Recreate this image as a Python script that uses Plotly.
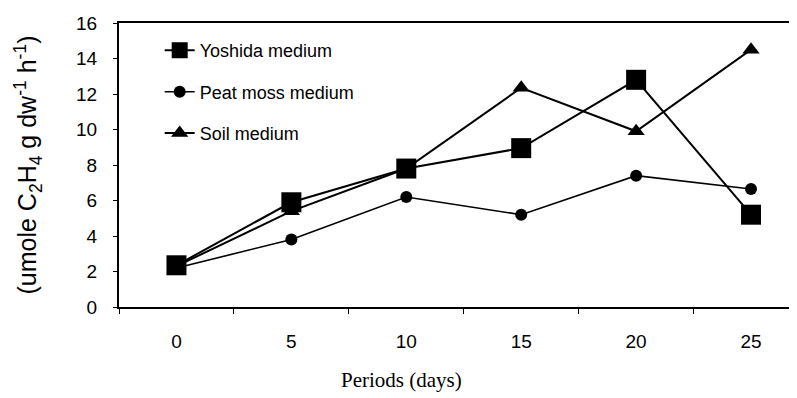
import plotly.graph_objects as go

periods = ["0", "5", "10", "15", "20", "25"]
yoshida = [2.35, 5.9, 7.8, 8.95, 12.8, 5.2]
peat_moss = [2.2, 3.8, 6.2, 5.2, 7.4, 6.65]
soil = [2.3, 5.4, 7.8, 12.35, 9.9, 14.5]
y_ticks = [0, 2, 4, 6, 8, 10, 12, 14, 16]

fig = go.Figure()
fig.add_trace(go.Scatter(x=periods, y=yoshida, name="Yoshida medium", mode="lines+markers",
                         legendgroup="a",
                         line=dict(color="black", width=2),
                         marker=dict(symbol="square", size=20, color="black")))
fig.add_trace(go.Scatter(x=periods, y=peat_moss, name="Peat moss medium", mode="lines+markers",
                         legendgroup="b",
                         line=dict(color="black", width=1.6),
                         marker=dict(symbol="circle", size=12, color="black")))
fig.add_trace(go.Scatter(x=periods, y=soil, name="Soil medium", mode="lines+markers",
                         legendgroup="c",
                         line=dict(color="black", width=2),
                         marker=dict(symbol="triangle-up", size=15, color="black")))

# page body has an 8px margin, so the figure is shifted by 8px
fig.update_layout(
    width=789, height=390,
    margin=dict(l=111, r=0, t=15, b=91, autoexpand=False),
    paper_bgcolor="white", plot_bgcolor="white",
    font=dict(family="Arial, Liberation Sans", color="black"),
    showlegend=True,
    legend=dict(x=0.06, y=0.968, xanchor="left", yanchor="top", bgcolor="rgba(0,0,0,0)",
                font=dict(size=18, family="Arial, Liberation Sans"),
                traceorder="grouped", tracegroupgap=15, itemsizing="trace"),
    xaxis=dict(type="category", range=[-0.5, 5.4], tickson="boundaries", automargin=False,
               showline=True, linecolor="black", linewidth=2, mirror=True,
               ticks="outside", ticklen=5, tickcolor="black", showgrid=False,
               tickfont=dict(size=19), ticklabelstandoff=16),
    yaxis=dict(range=[0, 16], tickvals=y_ticks, showline=True, linecolor="black", linewidth=2,
               automargin=False,
               ticks="outside", ticklen=4, tickcolor="black", showgrid=False, zeroline=False,
               tickfont=dict(size=19), ticklabelstandoff=12,
               title=dict(text="(umole C<sub>2</sub>H<sub>4</sub> g dw<sup>-1</sup> h<sup>-1</sup>)",
                          font=dict(size=25), standoff=32)),
    annotations=[dict(text="Periods (days)", xref="paper", yref="paper", x=0.416, y=-0.257,
                      xanchor="center", yanchor="middle", showarrow=False,
                      font=dict(family="Times New Roman, Liberation Serif", size=21))],
)

fig.write_html("out.html")
